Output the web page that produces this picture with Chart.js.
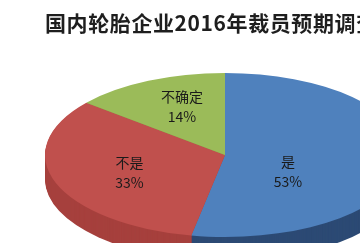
<!DOCTYPE html>
<html>
<head>
<meta charset="utf-8">
<script src="https://cdn.jsdelivr.net/npm/chart.js@4/dist/chart.umd.min.js"></script>
<style>
  html, body { margin: 0; padding: 0; width: 360px; height: 243px; overflow: hidden; background: #fff; }
  body { position: relative; }
  #stage { position: absolute; left: -75px; top: -145px; width: 600px; height: 600px; }
  #title {
    position: absolute; left: 45px; top: 12px; z-index: 2; letter-spacing: 0.6px;
    font: bold 21px/21px "Noto Sans CJK SC", sans-serif; color: #1e1e1e; white-space: nowrap;
  }
</style>
</head>
<body>
<div id="stage"><canvas id="pie" width="600" height="600"></canvas></div>
<div id="title">国内轮胎企业2016年裁员预期调查</div>
<script>
// Survey answers and their shares (percent)
const categories = ['是', '不是', '不确定'];
const shares = [53, 33, 14];

// Slice colours: top face and the darker side wall
const faceColors = ['#4f81bd', '#c0504d', '#9bbb59'];
const sideColors = ['#2c4a74', '#a6403d', '#7e9a47'];

// Tilt of the pie (vertical squash) and thickness of its wall, in px
const FLAT = 82 / 180;
const DEPTH = 24;

// Label anchors relative to the pie centre, as fractions of the radius
const labelSpots = [[0.35, 0.201], [-0.531, 0.22], [-0.239, -0.585]];

function tiltAround(ctx, x, y, dy) {
  ctx.translate(x, y + dy);
  ctx.scale(1, FLAT);
  ctx.translate(-x, -y);
}

const tiltedPie = {
  id: 'tiltedPie',
  beforeDatasetDraw(chart, args) {
    const ctx = chart.ctx;
    const arcs = args.meta.data;
    const { x, y } = arcs[0];
    // side wall: stacked copies of each wedge, pushed downwards
    for (let t = DEPTH; t >= 1; t--) {
      ctx.save();
      tiltAround(ctx, x, y, t);
      arcs.forEach((arc, i) => {
        ctx.beginPath();
        ctx.moveTo(x, y);
        ctx.arc(x, y, arc.outerRadius, arc.startAngle, arc.endAngle);
        ctx.closePath();
        ctx.fillStyle = sideColors[i];
        ctx.fill();
      });
      ctx.restore();
    }
    // top face is drawn by the controller under this transform
    ctx.save();
    tiltAround(ctx, x, y, 0);
  },
  afterDatasetDraw(chart, args) {
    const ctx = chart.ctx;
    ctx.restore();
    const arcs = args.meta.data;
    const { x, y, outerRadius: r } = arcs[0];
    ctx.save();
    ctx.fillStyle = '#1a1a1a';
    ctx.textAlign = 'center';
    ctx.textBaseline = 'middle';
    ctx.font = '14px "Noto Sans CJK SC", sans-serif';
    arcs.forEach((arc, i) => {
      const lx = x + labelSpots[i][0] * r;
      const ly = y + labelSpots[i][1] * r * FLAT;
      ctx.fillText(categories[i], lx, ly - 10);
      ctx.fillText(shares[i] + '%', lx, ly + 10);
    });
    ctx.restore();
  }
};

new Chart(document.getElementById('pie'), {
  type: 'pie',
  data: {
    labels: categories,
    datasets: [{
      data: shares,
      backgroundColor: faceColors,
      borderWidth: 0,
      clip: false
    }]
  },
  options: {
    responsive: false,
    animation: false,
    events: [],
    layout: { padding: 120 },
    plugins: { legend: { display: false }, tooltip: { enabled: false } }
  },
  plugins: [tiltedPie]
});
</script>
</body>
</html>
